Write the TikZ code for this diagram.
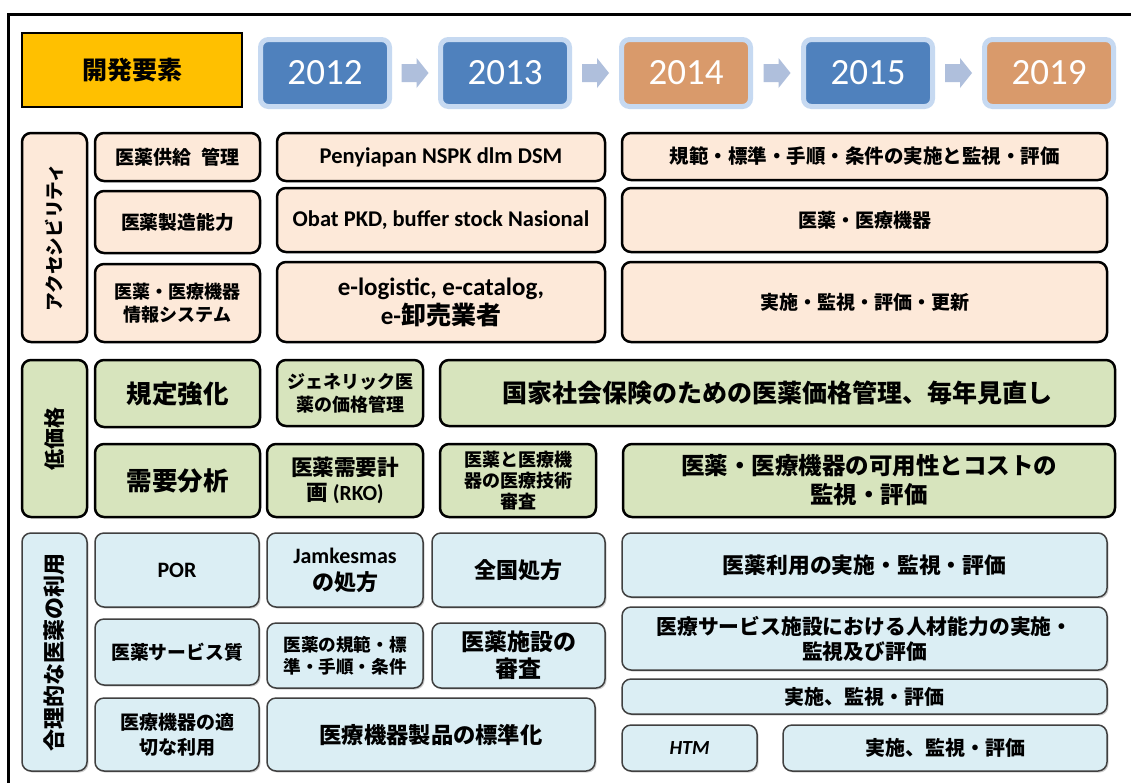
\documentclass[tikz,border=0pt]{standalone}
\usepackage{fontspec}
\setmainfont{Noto Sans CJK JP}
\newfontfamily\carl{Carlito}
\usetikzlibrary{calc,shadows}
\definecolor{peach}{HTML}{FDE9D9}
\definecolor{greenf}{HTML}{D7E4BD}
\definecolor{bluef}{HTML}{DBEEF4}
\definecolor{gold}{HTML}{FFC000}
\definecolor{yblue}{HTML}{4F81BD}
\definecolor{yorange}{HTML}{D99A6B}
\definecolor{yedge}{HTML}{C6D9F1}
\definecolor{arrowc}{HTML}{AFBFDC}
\newcommand\fs[2]{\fontsize{#1}{#2}\selectfont}
\tikzset{
  sz/.style 2 args={minimum width=#1pt, minimum height=#2pt},
  t/.style 2 args={font=\bfseries\fs{#1}{#2}},
  tc/.style 2 args={font=\bfseries\carl\fs{#1}{#2}},
  base/.style={rounded corners=9pt, inner sep=0pt, align=center},
  pk/.style={base, fill=peach, draw=black, line width=2.5pt},
  gr/.style={base, fill=greenf, draw=black, line width=2.5pt},
  bl/.style={base, fill=bluef, draw=black!75, line width=1.5pt,
     drop shadow={shadow xshift=1.5pt, shadow yshift=-1.5pt, opacity=0.3, fill=black!60}},
  yr/.style={rounded corners=8pt, draw=yedge, line width=5pt, text=white,
     font=\carl\fs{37}{40}, inner sep=0pt, sz={129}{67},
     drop shadow={shadow xshift=1pt, shadow yshift=-1.5pt, opacity=0.2, fill=black!50}},
  hdrbox/.style={fill=gold, draw=black, line width=2pt, inner sep=0pt, t={25}{30}},
  yarrow/.style={fill=arrowc}
}
\begin{document}
\begin{tikzpicture}[x=1pt,y=-1pt]
\useasboundingbox (0,0) rectangle (1131,782);
\fill[white] (0,0) rectangle (1131,782);
\clip (0,0) rectangle (1131,782);
% outer frame
\draw[line width=3pt] (8.5,800) -- (8.5,14.5) -- (1140,14.5);

% header
\node[hdrbox, sz={220}{74}] (hdr) at (132,70) {開発要素};
\node[yr, fill=yblue]   (y2012) at (325,73) {2012};
\node[yr, fill=yblue]   (y2013) at (505,73) {2013};
\node[yr, fill=yorange] (y2014) at (686,73) {2014};
\node[yr, fill=yblue]   (y2015) at (868,73) {2015};
\node[yr, fill=yorange] (y2019) at (1049,73) {2019};
\foreach \a/\b [count=\i] in {y2012/y2013,y2013/y2014,y2014/y2015,y2015/y2019}{
  \coordinate (m\i) at ($(\a.east)!0.5!(\b.west)$);
  \fill[yarrow] ($(m\i)+(-13.5,-9)$) -- ++(15,0) -- ++(0,-6) -- ++(12,15)
     -- ++(-12,15) -- ++(0,-6) -- ++(-15,0) -- cycle;
}

% section 1: accessibility
\node[pk, t={18.7}{22}, rotate=90, sz={209}{65}] (lab1) at (54.5,237.5) {アクセシビリティ};
\node[pk, t={19}{23}, sz={165}{48}] (a1) at (177.5,157) {医薬供給\hspace{0.5em}管理};
\node[pk, t={18.8}{23}, sz={165}{62}] (a2) at (177.5,222) {医薬製造能力};
\node[pk, t={18}{23}, sz={165}{78}] (a3) at (177.5,303) {医薬・医療機器\\情報システム};
\node[pk, tc={22.5}{26}, sz={328}{48}] (b1) at (441,157) {Penyiapan NSPK dlm DSM};
\node[pk, tc={22.5}{26}, sz={328}{64}] (b2) at (441,220) {Obat PKD, buffer stock Nasional};
\node[pk, t={25}{29}, sz={328}{80}] (b3) at (441,302) {{\carl e-logistic, e-catalog,}\\{\carl e-}卸売業者};
\node[pk, t={19.5}{23}, sz={485}{47}] (c1) at (864.5,156.5) {規範・標準・手順・条件の実施と監視・評価};
\node[pk, t={19}{23}, sz={485}{64}] (c2) at (864.5,220) {医薬・医療機器};
\node[pk, t={19}{23}, sz={485}{80}] (c3) at (864.5,302) {実施・監視・評価・更新};

% section 2: low price
\node[gr, t={21}{25}, rotate=90, sz={157}{65}] (lab2) at (54.5,438.5) {低価格};
\node[gr, t={25.5}{30}, sz={165}{67}] (d1) at (177.5,393.5) {規定強化};
\node[gr, t={25.5}{30}, sz={165}{73}] (d2) at (177.5,480.5) {需要分析};
\node[gr, t={18}{23}, sz={146}{66}] (e1) at (350,393) {ジェネリック医\\薬の価格管理};
\node[gr, t={25}{30}, sz={675}{66}] (e2) at (777.5,393) {国家社会保険のための医薬価格管理、毎年見直し};
\node[gr, t={21.6}{25}, sz={156}{73}] (f1) at (345,480.5) {医薬需要計\\画{\carl\ (RKO)}};
\node[gr, t={18}{21}, sz={156}{73}] (f2) at (518,480.5) {医薬と医療機\\器の医療技術\\審査};
\node[gr, t={23.5}{29}, sz={492}{73}] (f3) at (869,480.5) {医薬・医療機器の可用性とコストの\\監視・評価};

% section 3: rational use
\node[bl, t={22}{26}, rotate=90, sz={238}{65}] (lab3) at (54.5,652) {合理的な医薬の利用};
\node[bl, tc={22}{26}, sz={164}{74}] (g1) at (177,570) {POR};
\node[bl, t={18.8}{23}, sz={164}{66}] (g2) at (177,652) {医薬サービス質};
\node[bl, t={19}{25}, sz={164}{73}] (g3) at (177,734.5) {医療機器の適\\切な利用};
\node[bl, t={22}{27}, sz={156}{74}] (h1) at (345,570) {{\carl Jamkesmas}\\の処方};
\node[bl, t={22}{26}, sz={173}{74}] (h2) at (518.5,570) {全国処方};
\node[bl, t={17.6}{22}, sz={156}{65}] (h3) at (345,655.5) {医薬の規範・標\\準・手順・条件};
\node[bl, t={23}{27}, sz={173}{65}] (h4) at (518.5,655.5) {医薬施設の\\審査};
\node[bl, t={22.3}{26}, sz={328}{73}] (h5) at (431,734.5) {医療機器製品の標準化};
\node[bl, t={21.8}{26}, sz={485}{64}] (k1) at (864.5,565) {医薬利用の実施・監視・評価};
\node[bl, t={20.8}{25}, sz={485}{63}] (k2) at (864.5,638.5) {医療サービス施設における人材能力の実施・\\監視及び評価};
\node[bl, t={20}{24}, sz={485}{35}] (k3) at (864.5,696.5) {実施、監視・評価};
\node[bl, tc={20}{24}, sz={135}{46}] (k4) at (689.5,748) {\itshape HTM};
\node[bl, t={20}{24}, sz={324}{46}] (k5) at (945,748) {実施、監視・評価};
\end{tikzpicture}
\end{document}
